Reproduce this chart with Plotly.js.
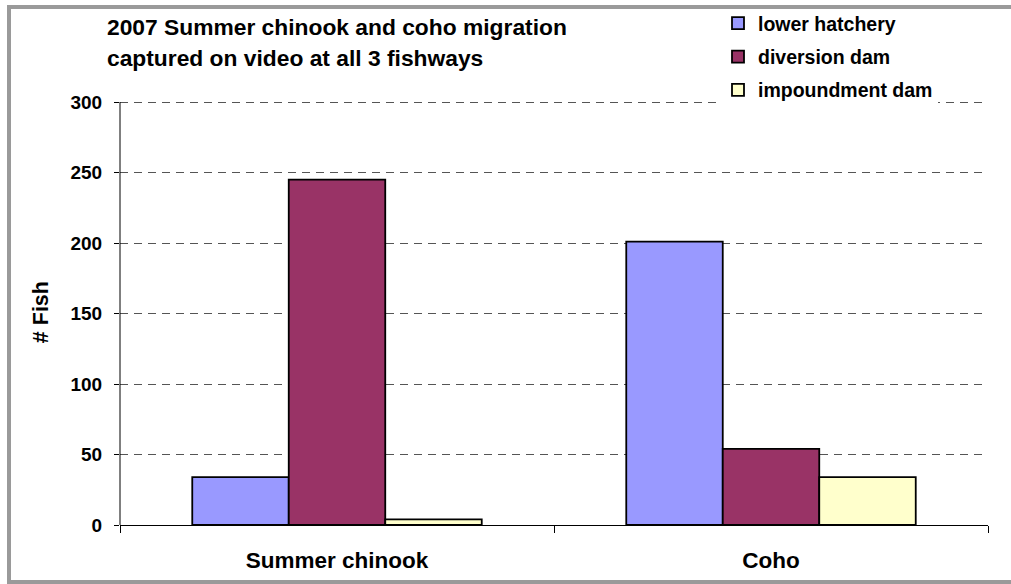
<!DOCTYPE html>
<html>
<head>
<meta charset="utf-8">
<script src="https://cdn.plot.ly/plotly-3.0.1.min.js"></script>
<style>
  html, body { margin: 0; padding: 0; background: #fff; overflow: hidden; }
  #wrap { position: relative; width: 1011px; height: 584px; }
  #chart { position: absolute; left: 0; top: 0; width: 1011px; height: 584px; }
  #frame { position: absolute; left: 7px; top: 5px; width: 1010px; height: 579px;
           box-sizing: border-box; border: 4px solid #9a9a9a; pointer-events: none; }
</style>
</head>
<body>
<div id="wrap">
  <div id="chart"></div>
  <div id="frame"></div>
</div>
<script>
// ---- data ----
const categories = ["Summer chinook", "Coho"];
const lowerHatchery = [34, 201];
const diversionDam = [245, 54];
const impoundmentDam = [4, 34];
const seriesNames = ["lower hatchery", "diversion dam", "impoundment dam"];
const yTicks = [0, 50, 100, 150, 200, 250, 300];

const colors = ["#9999FF", "#993366", "#FFFFCC"];
const values = [lowerHatchery, diversionDam, impoundmentDam];
const FONT = "Arial, 'Liberation Sans', Helvetica, sans-serif";
const W = 1011, H = 584;
const px = x => x / W;          // pixel -> paper x
const py = y => 1 - y / H;      // pixel -> paper y

const Y_MAX = 302;              // a little headroom so the 300 gridline is drawn
const Y0_PX = 525, Y300_PX = 102;
const yTopPx = Y0_PX - (Y0_PX - Y300_PX) * Y_MAX / 300;

const traces = values.map((v, i) => ({
  type: "bar",
  name: seriesNames[i],
  x: categories,
  y: v,
  legendgroup: "g" + i,
  marker: { color: colors[i], line: { color: "#000", width: 1.8 } },
  hoverinfo: "x+y+name"
}));

const layout = {
  width: W, height: H,
  margin: { l: 0, r: 0, t: 0, b: 0, pad: 0 },
  paper_bgcolor: "#fff", plot_bgcolor: "#fff",
  font: { family: FONT, color: "#000" },
  barmode: "group",
  bargap: 0.333,
  bargroupgap: 0,
  showlegend: true,
  title: {
    text: "<b>2007 Summer chinook and coho migration</b>",
    font: { family: FONT, size: 22.8, color: "#000" },
    xref: "paper", yref: "paper",
    x: px(107), xanchor: "left",
    y: py(27), yanchor: "middle"
  },
  annotations: [{
    text: "<b>captured on video at all 3 fishways</b>",
    font: { family: FONT, size: 22.8, color: "#000" },
    xref: "paper", yref: "paper",
    x: px(105), xanchor: "left",
    y: py(58), yanchor: "middle",
    showarrow: false
  }],
  legend: {
    x: px(718), xanchor: "left",
    y: py(4), yanchor: "top",
    bgcolor: "#fff",
    borderwidth: 0,
    traceorder: "grouped",
    tracegroupgap: 5,
    font: { family: FONT, size: 19.5, color: "#000", weight: "bold" }
  },
  xaxis: {
    type: "category",
    domain: [px(120), px(988)],
    showline: true, linecolor: "#000", linewidth: 1,
    ticks: "outside", ticklen: 7, tickcolor: "#000", tickwidth: 1,
    tickson: "boundaries",
    showgrid: false, zeroline: false,
    tickfont: { family: FONT, size: 22.5, color: "#000", weight: "bold" },
    ticklabelstandoff: 15
  },
  yaxis: {
    domain: [py(Y0_PX), py(yTopPx)],
    range: [0, Y_MAX],
    tickvals: yTicks,
    ticktext: yTicks.map(String),
    showline: false,
    ticks: "outside", ticklen: 5, tickcolor: "#000", tickwidth: 1,
    showgrid: true, gridcolor: "#555", gridwidth: 1, griddash: "8px,6px",
    zeroline: false,
    tickfont: { family: FONT, size: 19, color: "#000", weight: "bold" },
    ticklabelstandoff: 8,
    title: {
      text: "<b># Fish</b>",
      font: { family: FONT, size: 21.5, color: "#000" },
      standoff: 15
    }
  },
  shapes: [{
    // vertical value-axis line from 0 to 300
    type: "line", xref: "paper", yref: "y",
    x0: px(120), x1: px(120), y0: 0, y1: yTicks[yTicks.length - 1],
    line: { color: "#000", width: 1 }
  }]
};

Plotly.newPlot("chart", traces, layout, { displayModeBar: false, staticPlot: false });
</script>
</body>
</html>
